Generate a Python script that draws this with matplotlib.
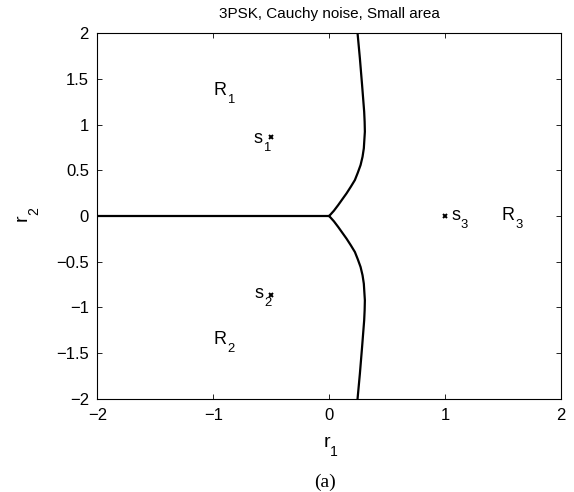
#---- 3PSK decision regions, Cauchy noise, small area
import numpy as np
import matplotlib
matplotlib.use("Agg")
import matplotlib.pyplot as plt

plt.rcParams['font.family'] = ['Liberation Sans', 'DejaVu Sans']

#---- Donnees lues sur la figure
# frontiere R1/R3 (moitie haute), la moitie basse est symetrique
bound_x = [0.0, 0.041, 0.078, 0.115, 0.150, 0.187, 0.222, 0.247, 0.271, 0.288,
           0.299, 0.308, 0.306, 0.302, 0.284, 0.265, 0.245]
bound_y = [0.0, 0.058, 0.120, 0.186, 0.248, 0.321, 0.394, 0.474, 0.558, 0.649,
           0.741, 0.923, 1.032, 1.142, 1.434, 1.726, 2.0]
# frontiere R1/R2
horiz_x = [-2.0, 0.0]
horiz_y = [0.0, 0.0]

# symboles
sym_x = [-0.5, -0.5, 1.0]
sym_y = [0.866, -0.866, 0.0]

# etiquettes (texte, indice, position du coin gauche / ligne de base)
lab_main = ['s', 's', 's', 'R', 'R', 'R']
lab_sub = ['1', '2', '3', '1', '2', '3']
lab_x = [-0.65, -0.64, 1.055, -1.0, -0.994, 1.486]
lab_y = [0.80, -0.898, -0.044, 1.325, -1.401, -0.044]

xticks = [-2, -1, 0, 1, 2]
yticks = [-2, -1.5, -1, -0.5, 0, 0.5, 1, 1.5, 2]


#-----------------------------------------------------------------------
#---- Texte avec indice facon Matlab
#-----------------------------------------------------------------------
def subText(ax, x, y, main, sub, size, dx, dy, transform, rotation=0):
    ax.text(x, y, main, fontsize=size, ha='left', va='baseline',
            transform=transform, rotation=rotation, rotation_mode='anchor')
    ax.annotate(sub, xy=(x, y), xycoords=transform, xytext=(dx, dy),
                textcoords='offset points', fontsize=size * 0.72,
                ha='left', va='baseline', rotation=rotation,
                rotation_mode='anchor', annotation_clip=False)


#---- Figure
fig = plt.figure(figsize=(5.74, 4.92), dpi=100)
ax = fig.add_axes([0.1695, 0.1896, 0.8079, 0.7427])

ax.plot(horiz_x, horiz_y, color='k', lw=1.6)
ax.plot(bound_x, bound_y, color='k', lw=1.6, solid_joinstyle='round')
ax.plot(bound_x, [-v for v in bound_y], color='k', lw=1.6, solid_joinstyle='round')

ax.plot(sym_x, sym_y, 'x', color='k', ms=3.5, mew=1.4)
for m, s, x, y in zip(lab_main, lab_sub, lab_x, lab_y):
    dx = 10.0 if m == 'R' else 6.8
    subText(ax, x, y, m, s, 13, dx, -5.8, ax.transData)

ax.set_xlim(-2, 2)
ax.set_ylim(-2, 2)
ax.set_xticks(xticks)
ax.set_yticks(yticks)
ax.set_xticklabels(['\u22122', '\u22121', '0', '1', '2'])
ax.set_yticklabels(['\u22122', '\u22121.5', '\u22121', '\u22120.5', '0', '0.5', '1', '1.5', '2'])
ax.tick_params(direction='in', length=3.5, labelsize=12, width=0.6, top=True, right=True)
ax.tick_params(axis='x', pad=7)
ax.tick_params(axis='y', pad=6)
for sp in ax.spines.values():
    sp.set_linewidth(0.8)

ax.set_title('3PSK, Cauchy noise, Small area', fontsize=11, pad=11)

#---- Labels des axes
subText(ax, 0.5632, 0.0921, 'r', '1', 14, 4.8, -6.7, fig.transFigure)
subText(ax, 0.047, 0.5508, 'r', '2', 14, 7.9, 4.3, fig.transFigure, rotation=90)

fig.text(0.567, 0.0195, '(a)', family='Liberation Serif', fontsize=14, ha='center', va='center')

fig.savefig('out.png', dpi=100)
